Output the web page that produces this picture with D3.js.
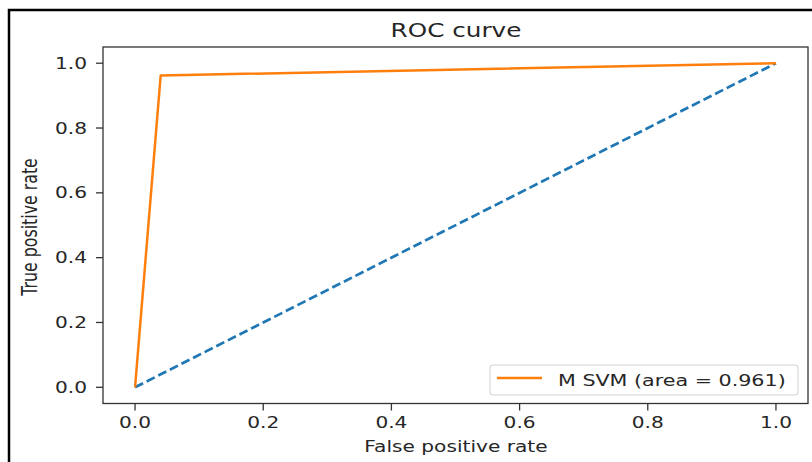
<!DOCTYPE html>
<html>
<head>
<meta charset="utf-8">
<script src="https://cdn.jsdelivr.net/npm/d3@7"></script>
<style>
  html, body { margin: 0; padding: 0; background: #fff; }
  svg { display: block; }
  text { font-family: "DejaVu Sans", sans-serif; fill: #262626; }
</style>
</head>
<body>
<svg id="chart" width="812" height="462"></svg>
<script>
// ---- data ----
const fpr = [0, 0.04, 1];
const tpr = [0, 0.962, 1];
const chanceX = [0, 1];
const chanceY = [0, 1];
const xTicks = [0, 0.2, 0.4, 0.6, 0.8, 1.0];
const yTicks = [0, 0.2, 0.4, 0.6, 0.8, 1.0];
const titleText = "ROC curve";
const xLabel = "False positive rate";
const yLabel = "True positive rate";
const legendLabel = "M SVM (area = 0.961)";

// ---- layout ----
const SX = 1.3; // horizontal stretch of the source image
const svg = d3.select("#chart");
const x = d3.scaleLinear().domain([-0.05, 1.05]).range([103, 808]);
const y = d3.scaleLinear().domain([-0.05, 1.05]).range([403.5, 47]);

function txt(g, s, px, py, size, anchor, rot) {
  return g.append("text")
    .attr("transform", `translate(${px},${py}) scale(${SX},1)` + (rot ? ` rotate(${rot})` : ""))
    .attr("text-anchor", anchor)
    .attr("font-size", size)
    .text(s);
}

// outer frame
svg.append("path")
  .attr("d", "M9,462 L9,10 L812,10")
  .attr("fill", "none").attr("stroke", "#000").attr("stroke-width", 2.5);

// lines
const line = d3.line().x(d => x(d[0])).y(d => y(d[1]));
const g = svg.append("g");
g.append("path")
  .datum(chanceX.map((v, i) => [v, chanceY[i]]))
  .attr("d", line)
  .attr("fill", "none").attr("stroke", "#1f77b4")
  .attr("stroke-width", 2.7).attr("stroke-dasharray", "9,4");
g.append("path")
  .datum(fpr.map((v, i) => [v, tpr[i]]))
  .attr("d", line)
  .attr("fill", "none").attr("stroke", "#ff7f0e")
  .attr("stroke-width", 2.5).attr("stroke-linejoin", "round");

// spines
const [x0, x1] = x.range(), [y0, y1] = y.range();
svg.append("rect")
  .attr("x", x0).attr("y", y1).attr("width", x1 - x0).attr("height", y0 - y1)
  .attr("fill", "none").attr("stroke", "#333").attr("stroke-width", 1.3);

// x ticks
xTicks.forEach(t => {
  svg.append("line").attr("x1", x(t)).attr("x2", x(t)).attr("y1", y0).attr("y2", y0 + 7)
    .attr("stroke", "#333").attr("stroke-width", 1.3);
  txt(svg, d3.format(".1f")(t), x(t), 428, 15.5, "middle");
});
// y ticks
yTicks.forEach(t => {
  svg.append("line").attr("x1", x0 - 7).attr("x2", x0).attr("y1", y(t)).attr("y2", y(t))
    .attr("stroke", "#333").attr("stroke-width", 1.3);
  txt(svg, d3.format(".1f")(t), 87, y(t) + 5.6, 15.5, "end");
});

// labels
txt(svg, titleText, 456, 37, 19, "middle");
txt(svg, xLabel, 456, 452, 15.5, "middle");
txt(svg, yLabel, 37, 227, 15.8, "middle", -90);

// legend
const lg = svg.append("g");
lg.append("rect").attr("x", 490).attr("y", 365).attr("width", 308).attr("height", 30)
  .attr("rx", 3).attr("fill", "#fff").attr("fill-opacity", 0.8)
  .attr("stroke", "#d0d0d0").attr("stroke-width", 1);
lg.append("line").attr("x1", 497).attr("x2", 542).attr("y1", 378).attr("y2", 378)
  .attr("stroke", "#ff7f0e").attr("stroke-width", 2.5);
txt(lg, legendLabel, 558, 386, 15.9, "start");
</script>
</body>
</html>
